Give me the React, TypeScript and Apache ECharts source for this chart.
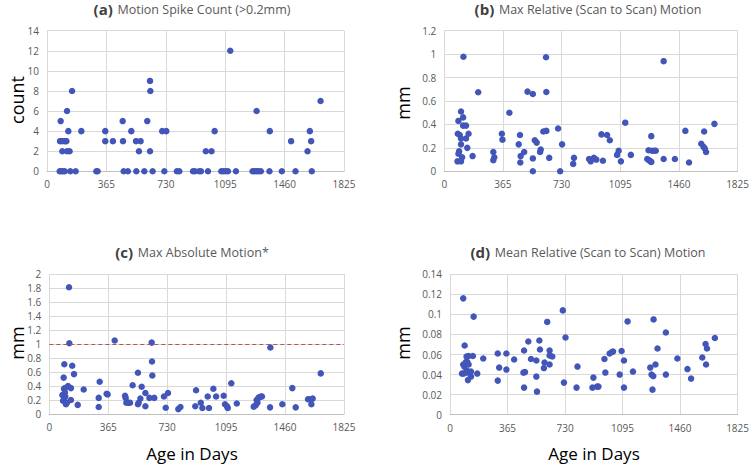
import React, { useEffect, useRef } from "react";
import * as echarts from "echarts";

// (a) Motion Spike Count (>0.2mm): [age in days, count]
const spikeCountData: number[][] = [
  [84, 5], [80, 3], [94, 3], [110, 3], [119, 3], [94, 2], [123, 2], [139, 2], [123, 6], [131, 4],
  [154, 8], [211, 4], [78, 0], [88, 0], [98, 0], [109, 0], [143, 0], [176, 0], [303, 0], [311, 0],
  [358, 4], [358, 3], [405, 3], [465, 5], [467, 3], [471, 0], [497, 0], [518, 4], [547, 3], [575, 3],
  [565, 2], [549, 0], [598, 0], [616, 5], [633, 9], [635, 8], [633, 2], [649, 0], [708, 4], [733, 4],
  [721, 0], [798, 0], [813, 0], [897, 0], [909, 0], [935, 0], [946, 0], [976, 2], [1011, 2], [989, 0],
  [1030, 4], [1071, 0], [1085, 0], [1099, 0], [1112, 0], [1126, 12], [1161, 0], [1263, 0], [1275, 0],
  [1288, 0], [1300, 0], [1314, 0], [1288, 6], [1369, 4], [1367, 0], [1443, 0], [1500, 3], [1527, 0],
  [1601, 2], [1615, 4], [1623, 3], [1627, 0], [1681, 7],
];

// (b) Max Relative (Scan to Scan) Motion: [age in days, mm]
const maxRelativeData: number[][] = [
  [119, 0.978], [211, 0.675], [104, 0.51], [117, 0.46], [88, 0.43], [117, 0.39], [135, 0.39], [84, 0.32],
  [96, 0.31], [104, 0.28], [151, 0.32], [135, 0.28], [104, 0.23], [143, 0.2], [92, 0.17], [88, 0.15],
  [111, 0.12], [176, 0.13], [82, 0.085], [104, 0.085], [305, 0.165], [311, 0.12], [305, 0.095],
  [358, 0.32], [362, 0.27], [405, 0.5], [463, 0.23], [471, 0.31], [475, 0.13], [497, 0.165], [473, 0.075],
  [518, 0.68], [551, 0.66], [551, 0.11], [551, 0], [563, 0.265], [575, 0.245], [596, 0.165], [600, 0.185],
  [616, 0.34], [635, 0.345], [633, 0.973], [635, 0.677], [653, 0.115], [708, 0.365], [721, 0], [733, 0.23],
  [802, 0.063], [807, 0.115], [901, 0.105], [911, 0.085], [931, 0.115], [946, 0.1], [978, 0.315],
  [987, 0.09], [1013, 0.31], [1030, 0.265], [1075, 0.14], [1085, 0.175], [1099, 0.085], [1126, 0.415],
  [1161, 0.14], [1263, 0.105], [1273, 0.095], [1271, 0.18], [1292, 0.175], [1306, 0.175], [1316, 0.175],
  [1288, 0.3], [1283, 0.085], [1288, 0.08], [1365, 0.94], [1365, 0.105], [1435, 0.105], [1500, 0.345],
  [1523, 0.075], [1599, 0.235], [1613, 0.21], [1617, 0.34], [1621, 0.195], [1629, 0.165], [1681, 0.405],
];

// (c) Max Absolute Motion*: [age in days, mm]
const maxAbsoluteData: number[][] = [
  [122, 1.81], [124, 1.01], [93, 0.71], [89, 0.52], [142, 0.69], [153, 0.57], [116, 0.4], [134, 0.37],
  [91, 0.36], [97, 0.37], [81, 0.27], [97, 0.31], [99, 0.25], [85, 0.19], [99, 0.17], [103, 0.14],
  [109, 0.16], [134, 0.2], [176, 0.13], [213, 0.35], [312, 0.46], [306, 0.23], [306, 0.1], [355, 0.29],
  [361, 0.28], [405, 1.05], [469, 0.26], [473, 0.23], [477, 0.16], [491, 0.16], [500, 0.16], [516, 0.41],
  [549, 0.59], [549, 0.14], [553, 0.16], [564, 0.22], [572, 0.39], [595, 0.3], [595, 0.11], [620, 0.23],
  [634, 1.02], [636, 0.75], [638, 0.55], [650, 0.23], [710, 0.25], [721, 0.09], [735, 0.3], [799, 0.07],
  [812, 0.1], [904, 0.11], [909, 0.34], [938, 0.16], [948, 0.086], [981, 0.25], [989, 0.086], [1016, 0.36],
  [1033, 0.25], [1080, 0.26], [1088, 0.14], [1101, 0.11], [1105, 0.086], [1127, 0.44], [1161, 0.15],
  [1266, 0.105], [1278, 0.125], [1284, 0.2], [1289, 0.16], [1295, 0.23], [1301, 0.24], [1311, 0.25],
  [1317, 0.25], [1369, 0.95], [1367, 0.095], [1443, 0.14], [1505, 0.37], [1526, 0.095], [1602, 0.21],
  [1609, 0.21], [1623, 0.14], [1631, 0.22], [1681, 0.58],
];
const absoluteThreshold = 1;

// (d) Mean Relative (Scan to Scan) Motion: [age in days, mm]
const meanRelativeData: number[][] = [
  [84, 0.116], [93, 0.069], [84, 0.05], [91, 0.048], [76, 0.041], [86, 0.041], [101, 0.0525], [110, 0.0525],
  [105, 0.058], [118, 0.0585], [118, 0.05], [107, 0.044], [105, 0.042], [114, 0.0345], [133, 0.043],
  [133, 0.038], [145, 0.0585], [150, 0.0978], [173, 0.041], [211, 0.056], [303, 0.061], [303, 0.034],
  [312, 0.047], [358, 0.061], [358, 0.045], [407, 0.055], [470, 0.064], [466, 0.042], [476, 0.0425],
  [470, 0.027], [497, 0.073], [514, 0.0555], [548, 0.054], [548, 0.038], [552, 0.023], [567, 0.074],
  [571, 0.065], [596, 0.0465], [600, 0.052], [617, 0.0925], [632, 0.064], [632, 0.059], [649, 0.058],
  [632, 0.05], [716, 0.104], [723, 0.032], [733, 0.077], [803, 0.027], [809, 0.048], [904, 0.027],
  [933, 0.028], [942, 0.028], [910, 0.037], [980, 0.0555], [986, 0.042], [1013, 0.061], [1028, 0.0625],
  [1035, 0.063], [1077, 0.04], [1089, 0.0635], [1104, 0.054], [1104, 0.027], [1127, 0.093], [1161, 0.043],
  [1271, 0.047], [1279, 0.04], [1290, 0.0385], [1285, 0.025], [1292, 0.095], [1304, 0.05], [1317, 0.066],
  [1370, 0.082], [1370, 0.04], [1443, 0.056], [1507, 0.0455], [1530, 0.036], [1601, 0.057], [1622, 0.0705],
  [1625, 0.05], [1631, 0.066], [1681, 0.0765],
];

const panelLetters = ["(a)", "(b)", "(c)", "(d)"];
const panelTitles = [
  "Motion Spike Count (>0.2mm)",
  "Max Relative (Scan to Scan) Motion",
  "Max Absolute Motion*",
  "Mean Relative (Scan to Scan) Motion",
];
const yAxisNames = ["count", "mm", "mm", "mm"];
const xAxisName = "Age in Days";
const xMax = 1825;
const xInterval = 365;
const yMaxes = [14, 1.2, 2, 0.14];
const yIntervals = [2, 0.2, 0.2, 0.02];

const FONT = "'Open Sans', 'Noto Sans', sans-serif";
const DOT = "#4255b8";
const GRID_LINE = "#d9d9d9";
const LABEL = "#595959";

export default function App() {
  const ref = useRef<HTMLDivElement>(null);
  useEffect(() => {
    if (!ref.current) return;
    const chart = echarts.init(ref.current, null, { renderer: "svg" });
    const grids = [
      { left: 47, top: 30.7, width: 297, height: 140.6 },
      { left: 444.3, top: 30.7, width: 297.4, height: 140.6 },
      { left: 49.3, top: 274, width: 294.7, height: 140 },
      { left: 450, top: 274.3, width: 288.7, height: 140.4 },
    ];
    const titleCenters = [
      [192, 0],
      [588, 0],
      [192, 243],
      [588, 243],
    ];
    const yNamePos = [
      [17, 100],
      [403, 103],
      [17, 343],
      [403, 343],
    ];
    const datasets = [spikeCountData, maxRelativeData, maxAbsoluteData, meanRelativeData];

    const option: any = {
      animation: false,
      textStyle: { fontFamily: FONT },
      title: panelTitles.map((t, i) => ({
        text: `{b|${panelLetters[i]}} {n|${t}}`,
        left: titleCenters[i][0],
        top: titleCenters[i][1],
        padding: 0,
        textAlign: "center",
        textStyle: {
          fontWeight: "normal",
          rich: {
            b: { fontFamily: FONT, fontSize: 15, fontWeight: "bold", color: "#404040" },
            n: { fontFamily: FONT, fontSize: 12.5, fontWeight: "normal", color: LABEL },
          },
        },
      })),
      grid: grids.map((g) => ({ ...g, containLabel: false })),
      xAxis: grids.map((_, i) => ({
        type: "value",
        gridIndex: i,
        min: 0,
        max: xMax,
        interval: xInterval,
        axisLine: { show: true, lineStyle: { color: "#bfbfbf", width: 1 } },
        axisTick: { show: false },
        axisLabel: { color: LABEL, fontSize: 10, fontFamily: FONT, margin: 8, formatter: (v: number) => String(v) },
        splitLine: { show: true, lineStyle: { color: GRID_LINE, width: 1 } },
      })),
      yAxis: grids.map((_, i) => ({
        type: "value",
        gridIndex: i,
        min: 0,
        max: yMaxes[i],
        interval: yIntervals[i],
        axisLine: { show: false },
        axisTick: { show: false },
        axisLabel: { color: LABEL, fontSize: 10, fontFamily: FONT, margin: 8 },
        splitLine: { show: true, lineStyle: { color: GRID_LINE, width: 1 } },
      })),
      series: datasets.map((d, i) => ({
        type: "scatter",
        xAxisIndex: i,
        yAxisIndex: i,
        data: d,
        symbol: "circle",
        symbolSize: 6.5,
        clip: false,
        itemStyle: { color: DOT, opacity: 1 },
        ...(i === 2
          ? {
              markLine: {
                silent: true,
                symbol: "none",
                label: { show: false },
                lineStyle: { color: "#c0504d", type: [4, 3], width: 1.2 },
                data: [{ yAxis: absoluteThreshold }],
              },
            }
          : {}),
      })),
      graphic: [
        ...yAxisNames.map((n, i) => ({
          type: "text",
          x: yNamePos[i][0],
          y: yNamePos[i][1],
          rotation: Math.PI / 2,
          style: {
            text: n,
            fontFamily: FONT,
            fontSize: 18,
            fill: "#000000",
            align: "center",
            verticalAlign: "middle",
          },
        })),
        {
          type: "text",
          x: 192,
          y: 453,
          style: { text: xAxisName, fontFamily: FONT, fontSize: 17, fill: "#000000", align: "center", verticalAlign: "middle" },
        },
        {
          type: "text",
          x: 594,
          y: 453,
          style: { text: xAxisName, fontFamily: FONT, fontSize: 17, fill: "#000000", align: "center", verticalAlign: "middle" },
        },
      ],
    };
    chart.setOption(option);
    return () => chart.dispose();
  }, []);
  return (
    <div
      ref={ref}
      style={{ position: "fixed", left: 0, top: 0, width: 752, height: 465, background: "#ffffff" }}
    />
  );
}
